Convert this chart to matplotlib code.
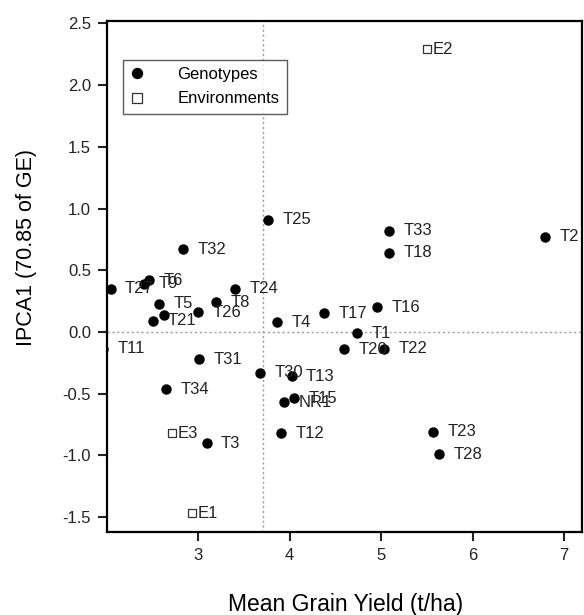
import numpy as np
import matplotlib.pyplot as plt

plt.rcParams['font.family'] = ['Liberation Sans', 'DejaVu Sans']

# genotypes (mean yield, IPCA1 score)
geno_names = ['T1', 'T2', 'T3', 'T4', 'T5', 'T6', 'T8', 'T9', 'T11', 'T12',
              'T13', 'T15', 'T16', 'T17', 'T18', 'T20', 'T21', 'T22', 'T23',
              'T24', 'T25', 'T26', 'T27', 'T28', 'T30', 'T31', 'T32', 'T33',
              'T34', 'NR1', '']
geno_yield = [4.74, 6.79, 3.09, 3.86, 2.57, 2.46, 3.19, 2.41, 1.96, 3.90,
              4.02, 4.05, 4.95, 4.38, 5.09, 4.59, 2.50, 5.03, 5.57,
              3.40, 3.76, 3.00, 2.04, 5.63, 3.68, 3.01, 2.83, 5.09,
              2.65, 3.94, 2.63]
geno_ipca = [-0.01, 0.77, -0.90, 0.08, 0.23, 0.42, 0.24, 0.39, -0.135, -0.82,
             -0.36, -0.535, 0.20, 0.15, 0.64, -0.14, 0.09, -0.135, -0.81,
             0.35, 0.91, 0.16, 0.35, -0.99, -0.33, -0.22, 0.67, 0.82,
             -0.465, -0.57, 0.135]

# environments
env_names = ['E1', 'E2', 'E3']
env_yield = [2.93, 5.50, 2.71]
env_ipca = [-1.47, 2.29, -0.82]

grand_mean = 3.71

fig = plt.figure(figsize=(5.84, 6.15), dpi=100)
ax = fig.add_axes([0.183, 0.135, 0.814, 0.831])

ax.axhline(0, color='#9a9a9a', ls=(0, (1.5, 2)), lw=1, zorder=1)
ax.axvline(grand_mean, color='#9a9a9a', ls=(0, (1.5, 2)), lw=1, zorder=1)

ax.plot(geno_yield, geno_ipca, 'o', color='black', ms=6.5, ls='none',
        label='Genotypes', zorder=3)
ax.plot(env_yield, env_ipca, 's', mfc='white', mec='#333333', mew=0.9, ms=6,
        ls='none', label='Environments', zorder=3)

for n, x, y in zip(geno_names, geno_yield, geno_ipca):
    if n:
        ax.annotate(n, (x, y), xytext=(10.5, 0), textcoords='offset points',
                    va='center', ha='left', fontsize=12, color='#222222',
                    annotation_clip=False)
for n, x, y in zip(env_names, env_yield, env_ipca):
    ax.annotate(n, (x, y), xytext=(4, 0), textcoords='offset points',
                va='center', ha='left', fontsize=12, color='#222222')

ax.set_xlim(2.0, 7.2)
ax.set_ylim(-1.62, 2.52)
ax.set_xticks([3, 4, 5, 6, 7])
ax.set_yticks([-1.5, -1.0, -0.5, 0.0, 0.5, 1.0, 1.5, 2.0, 2.5])
ax.set_yticklabels(['-1.5', '-1.0', '-0.5', '0.0', '0.5', '1.0', '1.5', '2.0', '2.5'])
ax.tick_params(direction='out', length=6.5, width=1.5, labelsize=12,
               colors='#222222', pad=5)
for s in ax.spines.values():
    s.set_linewidth(1.6)

ax.set_xlabel('Mean Grain Yield (t/ha)', fontsize=16.5)
ax.set_ylabel('IPCA1 (70.85 of GE)', fontsize=15.5)
ax.xaxis.set_label_coords(0.503, -0.119)
ax.yaxis.set_label_coords(-0.148, 0.556)

leg = ax.legend(loc='upper left', bbox_to_anchor=(0.034, 0.924),
                borderaxespad=0, fontsize=12, frameon=True, fancybox=False,
                edgecolor='#333333', handlelength=0.72, handletextpad=2.1,
                borderpad=0.45, labelspacing=0.55, markerscale=1.1)
leg.get_frame().set_linewidth(1.0)

fig.savefig('out.png', dpi=100)
